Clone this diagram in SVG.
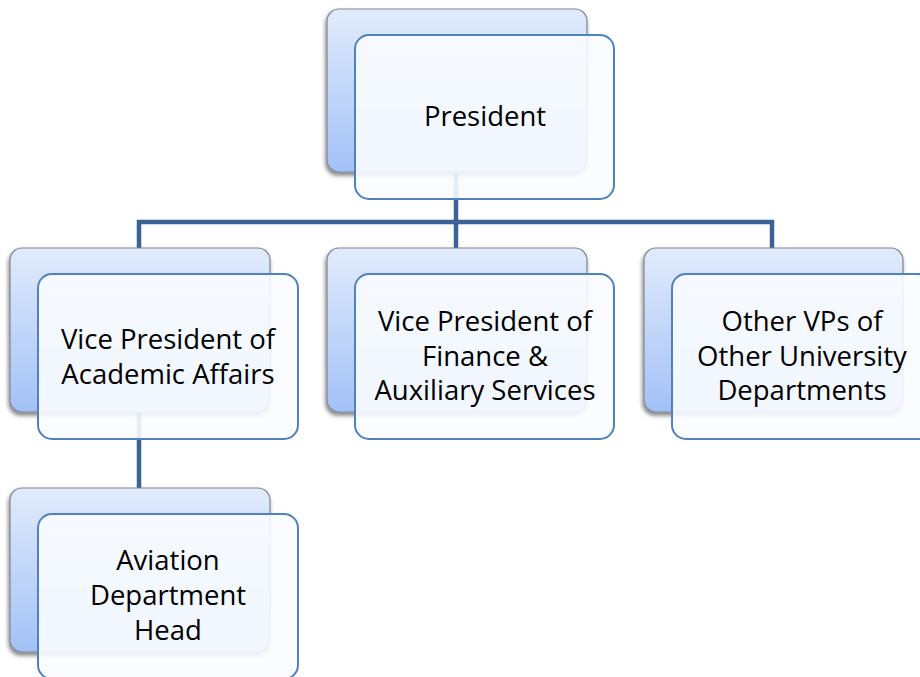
<svg xmlns="http://www.w3.org/2000/svg" width="920" height="677" viewBox="0 0 920 677">
  <defs>
    <linearGradient id="backFill" x1="0" y1="0" x2="0" y2="1">
      <stop offset="0" stop-color="#e1ebfc"/>
      <stop offset="1" stop-color="#a3c1f7"/>
    </linearGradient>
    <filter id="shadow" x="-10%" y="-10%" width="120%" height="125%">
      <feGaussianBlur in="SourceAlpha" stdDeviation="2"/>
      <feOffset dx="-1" dy="3" result="b"/>
      <feComponentTransfer><feFuncA type="linear" slope="0.5"/></feComponentTransfer>
      <feMerge><feMergeNode/><feMergeNode in="SourceGraphic"/></feMerge>
    </filter>
  </defs>
  <style>
    .back { fill: url(#backFill); stroke: #80858f; stroke-width: 1.2; filter: url(#shadow); }
    .front { fill: #fafcff; fill-opacity: 0.9; stroke: #4f81bd; stroke-width: 2; }
    .link { fill: none; stroke: #3b6196; stroke-width: 4.5; }
    .label { font-family: "Open Sans", "Liberation Sans", sans-serif; font-size: 27.5px; fill: #000; text-anchor: middle; }
  </style>
  <rect width="920" height="677" fill="#ffffff"/>

  <!-- connectors sit under the boxes -->
  <g id="connectors">
    <path class="link" d="M456 172 V222"/>
    <path class="link" d="M139 248 V222 H772 V248"/>
    <path class="link" d="M456 222 V248"/>
    <path class="link" d="M139 412 V488"/>
  </g>

  <g id="president">
    <rect class="back" x="327" y="9" width="260" height="163" rx="12"/>
    <rect class="front" x="355" y="35" width="259" height="164" rx="14"/>
    <text class="label" x="485" y="126">President</text>
  </g>

  <g id="vp-academic">
    <rect class="back" x="10" y="248" width="260" height="164" rx="12"/>
    <rect class="front" x="38" y="274" width="260" height="165" rx="14"/>
    <text class="label" x="168" y="349">Vice President of</text>
    <text class="label" x="168" y="384">Academic Affairs</text>
  </g>

  <g id="vp-finance">
    <rect class="back" x="327" y="248" width="260" height="164" rx="12"/>
    <rect class="front" x="355" y="274" width="259" height="165" rx="14"/>
    <text class="label" x="485" y="331">Vice President of</text>
    <text class="label" x="485" y="366">Finance &amp;</text>
    <text class="label" x="485" y="400">Auxiliary Services</text>
  </g>

  <g id="other-vps">
    <rect class="back" x="644" y="248" width="259" height="164" rx="12"/>
    <rect class="front" x="672" y="274" width="260" height="165" rx="14"/>
    <text class="label" x="802" y="331">Other VPs of</text>
    <text class="label" x="802" y="366">Other University</text>
    <text class="label" x="802" y="400">Departments</text>
  </g>

  <g id="aviation-head">
    <rect class="back" x="10" y="488" width="260" height="164" rx="12"/>
    <rect class="front" x="38" y="514" width="260" height="165" rx="14"/>
    <text class="label" x="168" y="570">Aviation</text>
    <text class="label" x="168" y="605">Department</text>
    <text class="label" x="168" y="640">Head</text>
  </g>
</svg>
